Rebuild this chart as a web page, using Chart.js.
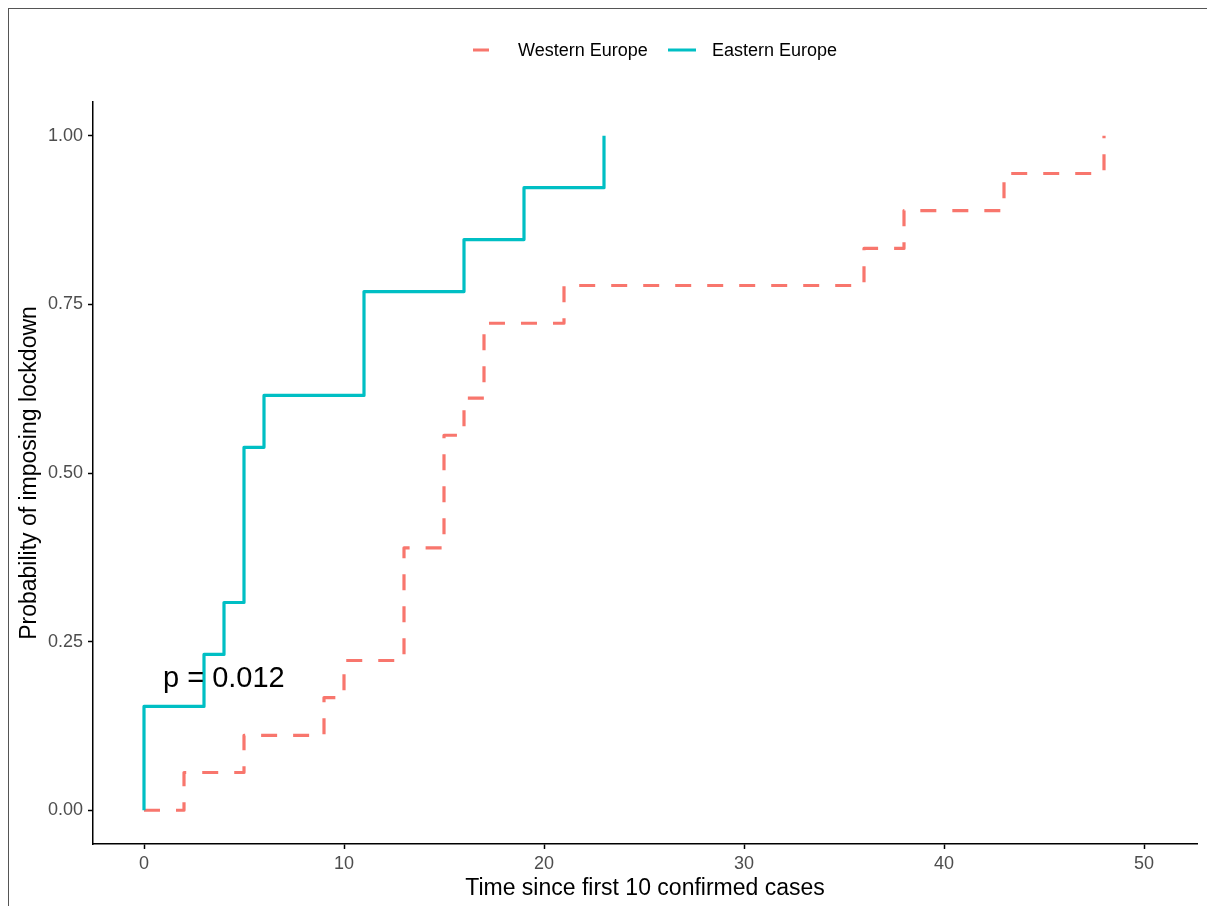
<!DOCTYPE html>
<html>
<head>
<meta charset="utf-8">
<script src="https://cdn.jsdelivr.net/npm/chart.js@4/dist/chart.umd.min.js"></script>
<style>
  html, body { margin: 0; padding: 0; background: #ffffff; }
  #wrap { width: 1207px; height: 906px; }
</style>
</head>
<body>
<div id="wrap"><canvas id="c" width="1207" height="906"></canvas></div>
<script>
// ---- Data ----
const westTime = [0, 2, 5, 9, 10, 13, 15, 16, 17, 21, 36, 38, 43, 48];
const westProb = [0, 0.056, 0.111, 0.167, 0.222, 0.389, 0.556, 0.611, 0.722, 0.778, 0.833, 0.889, 0.944, 1.0];
const eastTime = [0, 0, 3, 4, 5, 6, 11, 16, 19, 23];
const eastProb = [0, 0.154, 0.231, 0.308, 0.538, 0.615, 0.769, 0.846, 0.923, 1.0];
const xTicks = [0, 10, 20, 30, 40, 50];
const yTicks = [0, 0.25, 0.5, 0.75, 1.0];
const seriesNames = ['Western Europe', 'Eastern Europe'];
const pLabel = 'p = 0.012';
const pPos = [0.95, 0.194];

const WEST_COL = '#F8766D';
const EAST_COL = '#00BFC4';
const FONT = '"Liberation Sans", Arial, sans-serif';

const toXY = (xs, ys) => xs.map((x, i) => ({x: x, y: ys[i]}));

const frame = {
  id: 'frame',
  beforeDraw(chart) {
    const ctx = chart.ctx;
    ctx.save();
    ctx.fillStyle = '#ffffff';
    ctx.fillRect(0, 0, chart.width, chart.height);
    ctx.strokeStyle = '#555555';
    ctx.lineWidth = 1;
    ctx.strokeRect(8.5, 8.5, 1220, 920);
    ctx.restore();
  }
};

const extras = {
  id: 'extras',
  afterDatasetsDraw(chart) {
    const ctx = chart.ctx;
    const xs = chart.scales.x, ys = chart.scales.y;
    ctx.save();
    // p-value annotation
    ctx.fillStyle = '#000000';
    ctx.font = '29px ' + FONT;
    ctx.textAlign = 'left';
    ctx.textBaseline = 'middle';
    ctx.fillText(pLabel, xs.getPixelForValue(pPos[0]), ys.getPixelForValue(pPos[1]));

    // legend
    const ly = 50;
    ctx.font = '18px ' + FONT;
    ctx.textBaseline = 'middle';
    ctx.lineWidth = 3;
    // Western key (dashed)
    ctx.strokeStyle = WEST_COL;
    ctx.setLineDash([16, 16]);
    ctx.beginPath(); ctx.moveTo(473, ly); ctx.lineTo(501, ly); ctx.stroke();
    ctx.setLineDash([]);
    ctx.fillStyle = '#000000';
    ctx.fillText(seriesNames[0], 518, ly + 1.5);
    // Eastern key (solid)
    ctx.strokeStyle = EAST_COL;
    ctx.beginPath(); ctx.moveTo(668, ly); ctx.lineTo(696, ly); ctx.stroke();
    ctx.fillText(seriesNames[1], 712, ly + 1.5);
    ctx.restore();
  }
};

new Chart(document.getElementById('c'), {
  type: 'line',
  data: {
    datasets: [
      {
        label: seriesNames[0],
        data: toXY(westTime, westProb),
        borderColor: WEST_COL,
        borderWidth: 3.2,
        borderDash: [16, 16],
        borderCapStyle: 'butt',
        borderJoinStyle: 'round',
        stepped: true,
        pointRadius: 0,
        fill: false,
        order: 1
      },
      {
        label: seriesNames[1],
        data: toXY(eastTime, eastProb),
        borderColor: EAST_COL,
        borderWidth: 3.2,
        borderCapStyle: 'butt',
        borderJoinStyle: 'round',
        stepped: true,
        pointRadius: 0,
        fill: false,
        order: 0
      }
    ]
  },
  options: {
    responsive: false,
    animation: false,
    devicePixelRatio: 1,
    layout: { padding: { left: 0, right: 10, top: 102, bottom: 0 } },
    plugins: { legend: { display: false }, tooltip: { enabled: false } },
    scales: {
      x: {
        type: 'linear',
        min: -2.55,
        max: 52.65,
        afterBuildTicks: (s) => { s.ticks = xTicks.map(v => ({value: v})); },
        afterFit: (s) => { s.height = 62; },
        ticks: {
          color: '#4D4D4D',
          font: { family: FONT, size: 18 },
          padding: 4,
          maxRotation: 0,
          callback: (v) => String(v)
        },
        grid: { display: true, drawOnChartArea: false, drawTicks: true, tickLength: 5, tickColor: '#000000', tickWidth: 1.5 },
        border: { display: true, color: '#000000', width: 1.5 },
        title: {
          display: true,
          text: 'Time since first 10 confirmed cases',
          color: '#000000',
          font: { family: FONT, size: 23 },
          padding: { top: 0, bottom: 4 }
        }
      },
      y: {
        type: 'linear',
        min: -0.05,
        max: 1.05,
        afterBuildTicks: (s) => { s.ticks = yTicks.map(v => ({value: v})); },
        afterFit: (s) => { s.width = 93; },
        ticks: {
          color: '#4D4D4D',
          font: { family: FONT, size: 18 },
          padding: 5,
          callback: (v) => Number(v).toFixed(2)
        },
        grid: { display: true, drawOnChartArea: false, drawTicks: true, tickLength: 5, tickColor: '#000000', tickWidth: 1.5 },
        border: { display: true, color: '#000000', width: 1.5 },
        title: {
          display: true,
          text: 'Probability of imposing lockdown',
          color: '#000000',
          font: { family: FONT, size: 23 },
          padding: { top: 16, bottom: 0 }
        }
      }
    }
  },
  plugins: [frame, extras]
});
</script>
</body>
</html>
